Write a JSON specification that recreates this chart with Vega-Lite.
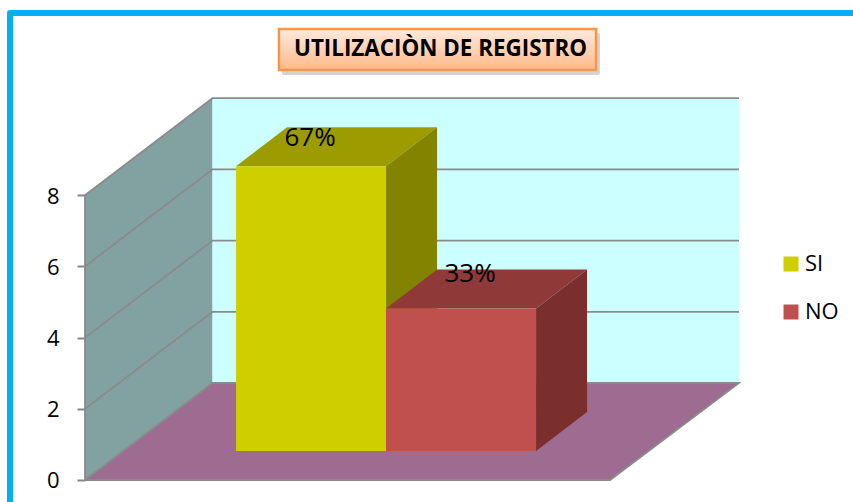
{
"$schema":"https://vega.github.io/schema/vega-lite/v6.json",
"width":853,"height":502,"padding":0,"autosize":{"type":"none"},
"background":"white",
"config":{"view":{"stroke":null},"font":"Open Sans"},
"title":{"text":"UTILIZACIÒN DE REGISTRO","anchor":"middle","dx":14,"dy":75,"font":"Open Sans","fontSize":22.4,"fontWeight":"bold","color":"#000000","baseline":"middle"},
"datasets":{
"marco":[{"x":5.3,"y":13.12,"n":1},{"x":-0.5,"y":13.12,"n":2},{"x":-0.5,"y":-1.2,"n":3}],
"rotulo":[{"x":1.293,"x2":3.407,"y":12.669,"y2":11.517}],
"sombra":[{"x":1.313,"x2":3.433,"y":12.556,"y2":11.376}],
"fondo":[
{"cara":"pared","x":0,"y":0,"n":1},{"cara":"pared","x":0.85,"y":2.725,"n":2},{"cara":"pared","x":0.85,"y":10.725,"n":3},{"cara":"pared","x":0,"y":8,"n":4},
{"cara":"posterior","x":0.85,"y":2.725,"n":1},{"cara":"posterior","x":4.36,"y":2.725,"n":2},{"cara":"posterior","x":4.36,"y":10.725,"n":3},{"cara":"posterior","x":0.85,"y":10.725,"n":4},
{"cara":"piso","x":0,"y":0,"n":1},{"cara":"piso","x":3.5,"y":0,"n":2},{"cara":"piso","x":4.36,"y":2.725,"n":3},{"cara":"piso","x":0.85,"y":2.725,"n":4}
],
"rejilla":[
{"linea":"g2","x":0,"y":2,"n":1},{"linea":"g2","x":0.85,"y":4.725,"n":2},{"linea":"g2","x":4.36,"y":4.725,"n":3},
{"linea":"g4","x":0,"y":4,"n":1},{"linea":"g4","x":0.85,"y":6.725,"n":2},{"linea":"g4","x":4.36,"y":6.725,"n":3},
{"linea":"g6","x":0,"y":6,"n":1},{"linea":"g6","x":0.85,"y":8.725,"n":2},{"linea":"g6","x":4.36,"y":8.725,"n":3},
{"linea":"g8","x":0,"y":8,"n":1},{"linea":"g8","x":0.85,"y":10.725,"n":2},{"linea":"g8","x":4.36,"y":10.725,"n":3},
{"linea":"b0","x":0,"y":8,"n":1},{"linea":"b0","x":0,"y":0,"n":2},{"linea":"b0","x":3.5,"y":0,"n":3},{"linea":"b0","x":4.36,"y":2.725,"n":4},{"linea":"b0","x":0.85,"y":2.725,"n":5},{"linea":"b0","x":0,"y":0,"n":6}
],
"caras":[
{"cara":"si_top","x":1.007,"y":8.815,"n":1},{"cara":"si_top","x":2.007,"y":8.815,"n":2},{"cara":"si_top","x":2.347,"y":9.91,"n":3},{"cara":"si_top","x":1.347,"y":9.91,"n":4},
{"cara":"si_lado","x":2.007,"y":8.815,"n":1},{"cara":"si_lado","x":2.347,"y":9.91,"n":2},{"cara":"si_lado","x":2.347,"y":1.91,"n":3},{"cara":"si_lado","x":2.007,"y":0.815,"n":4},
{"cara":"no_top","x":2.007,"y":4.815,"n":1},{"cara":"no_top","x":3.007,"y":4.815,"n":2},{"cara":"no_top","x":3.347,"y":5.91,"n":3},{"cara":"no_top","x":2.347,"y":5.91,"n":4},
{"cara":"no_lado","x":3.007,"y":4.815,"n":1},{"cara":"no_lado","x":3.347,"y":5.91,"n":2},{"cara":"no_lado","x":3.347,"y":1.91,"n":3},{"cara":"no_lado","x":3.007,"y":0.815,"n":4}
],
"barras":[
{"serie":"SI","x":1.007,"x2":2.007,"base":0.815,"tope":8.815},
{"serie":"NO","x":2.007,"x2":3.007,"base":0.815,"tope":4.815}
],
"etiquetas":[
{"texto":"67%","x":1.5,"y":9.6},
{"texto":"33%","x":2.567,"y":5.8}
]
},
"encoding":{
"x":{"field":"x","type":"quantitative","scale":{"domain":[-0.5667,5.12],"nice":false,"zero":false},"axis":null},
"y":{"field":"y","type":"quantitative","scale":{"domain":[-0.618,13.483],"nice":false,"zero":false},
"axis":{"title":null,"orient":"left","offset":-85,"values":[0,2,4,6,8],"domain":false,"grid":false,"tickSize":8,"tickColor":"#868686","tickWidth":2,"labelFont":"Open Sans","labelFontSize":22,"labelColor":"#000000","labelPadding":18,"labelOffset":1,"format":"d"}}
},
"layer":[
{"data":{"name":"marco"},"mark":{"type":"line","stroke":"#00B0F0","strokeWidth":6,"strokeJoin":"round","clip":false},"encoding":{"order":{"field":"n"}}},
{"data":{"name":"sombra"},"mark":{"type":"rect","fill":"#808080","opacity":0.35,"cornerRadius":2},"encoding":{"x2":{"field":"x2"},"y2":{"field":"y2"}}},
{"data":{"name":"rotulo"},"mark":{"type":"rect","stroke":"#F79646","strokeWidth":2.5,"fill":{"gradient":"linear","x1":0,"y1":0,"x2":0,"y2":1,"stops":[{"offset":0,"color":"#FFEADD"},{"offset":1,"color":"#FFB98A"}]}},"encoding":{"x2":{"field":"x2"},"y2":{"field":"y2"}}},
{"data":{"name":"fondo"},"mark":{"type":"line","strokeWidth":0},"encoding":{"order":{"field":"n"},"fill":{"field":"cara","type":"nominal","legend":null,"scale":{"domain":["pared","posterior","piso","si_top","si_lado","no_top","no_lado"],"range":["#82A2A2","#CCFFFF","#9E6B91","#9C9C00","#838300","#8F3A39","#7A2F2D"]}}}},
{"data":{"name":"rejilla"},"mark":{"type":"line","stroke":"#8A8A8A","strokeWidth":1.8},"encoding":{"order":{"field":"n"},"detail":{"field":"linea"}}},
{"data":{"name":"caras"},"mark":{"type":"line","strokeWidth":0},"encoding":{"order":{"field":"n"},"fill":{"field":"cara","type":"nominal","legend":null,"scale":{"domain":["pared","posterior","piso","si_top","si_lado","no_top","no_lado"],"range":["#82A2A2","#CCFFFF","#9E6B91","#9C9C00","#838300","#8F3A39","#7A2F2D"]}}}},
{"data":{"name":"barras"},"mark":{"type":"rect"},"encoding":{
"x2":{"field":"x2"},"y":{"field":"tope","type":"quantitative"},"y2":{"field":"base"},
"color":{"field":"serie","type":"nominal","scale":{"domain":["SI","NO"],"range":["#CFCF00","#C0504D"]},
"legend":{"orient":"none","legendX":780,"legendY":253,"title":null,"symbolType":"square","symbolSize":225,"symbolStrokeWidth":0,"labelFont":"Open Sans","labelFontSize":22,"labelColor":"#000000","labelOffset":3,"rowPadding":26}}}},
{"data":{"name":"etiquetas"},"mark":{"type":"text","font":"Open Sans","fontSize":26,"color":"#000000","align":"center","baseline":"middle"},"encoding":{"text":{"field":"texto"}}}
]
}
